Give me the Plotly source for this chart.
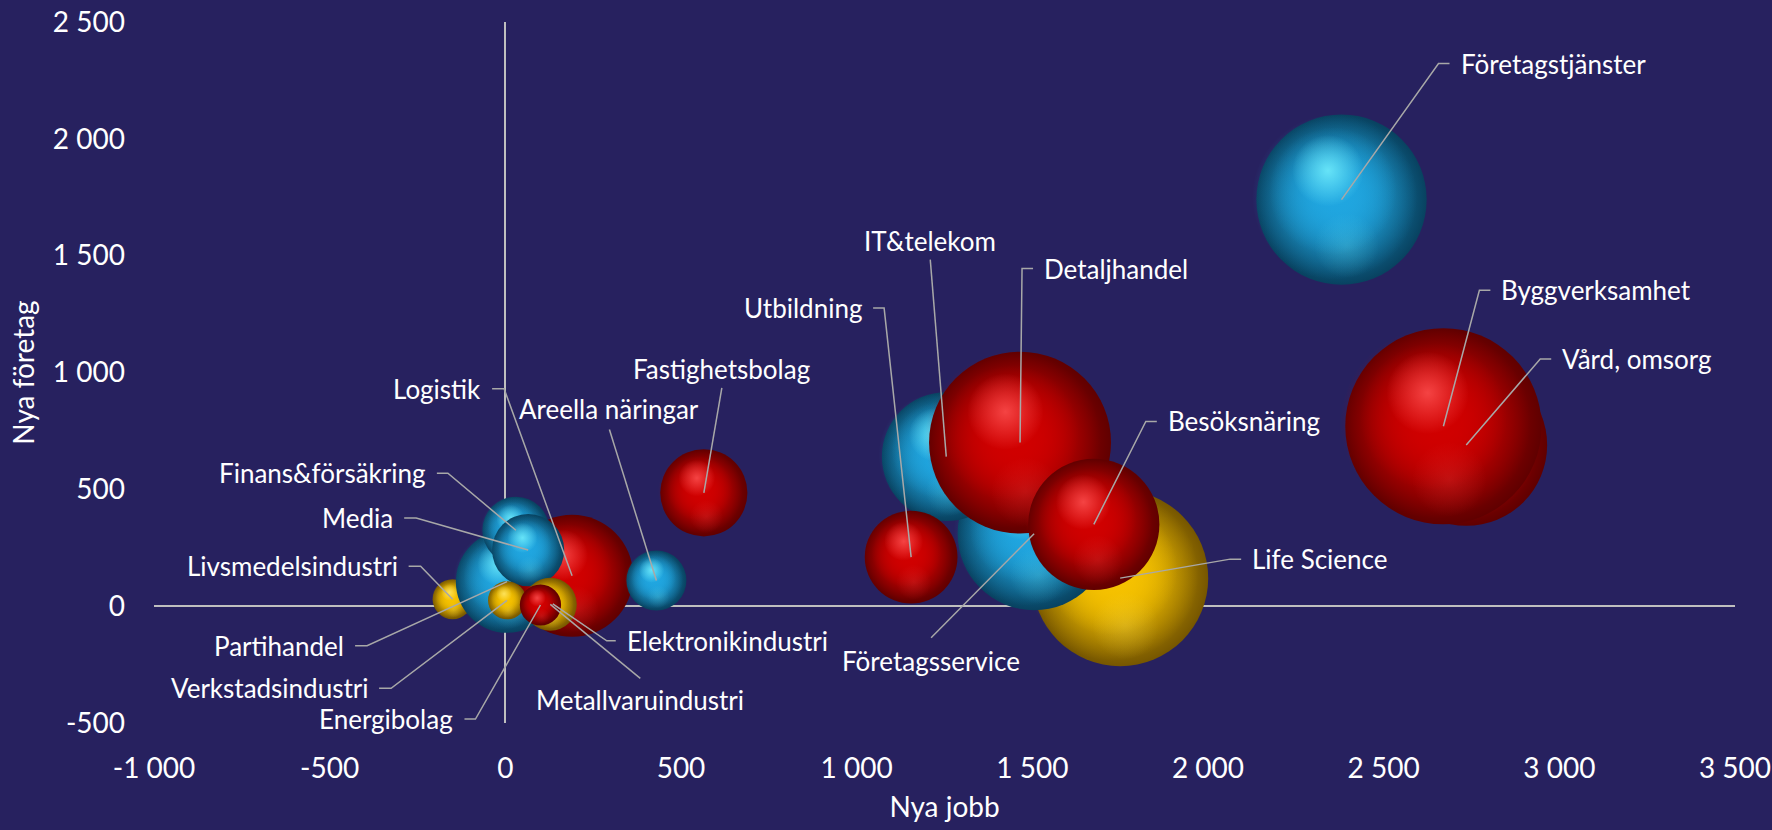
import math
import plotly.graph_objects as go

# --- data -------------------------------------------------------------------
branscher = [
    "Livsmedelsindustri", "Partihandel", "Logistik", "Finans&försäkring", "Media",
    "Verkstadsindustri", "Elektronikindustri", "Metallvaruindustri", "Energibolag",
    "Areella näringar", "Fastighetsbolag", "Life Science", "Företagsservice",
    "IT&telekom", "Detaljhandel", "Utbildning", "Besöksnäring",
    "Vård, omsorg", "Byggverksamhet", "Företagstjänster",
]
nya_jobb = [-150, 5, 190, 30, 65, 5, 135, 128, 100, 430, 565, 1750, 1505,
            1255, 1465, 1155, 1675, 2735, 2670, 2380]
nya_foretag = [30, 105, 130, 325, 240, 25, 10, 8, 5, 110, 485, 120, 310,
               640, 700, 210, 350, 690, 770, 1740]
storlek = [160, 1050, 1490, 450, 520, 145, 90, 280, 170, 360, 760, 3100, 2340,
           1660, 3310, 860, 1720, 2620, 3850, 2900]
grupp = ["gul", "blå", "röd", "blå", "blå", "gul", "gul", "gul", "röd", "blå",
         "röd", "gul", "blå", "blå", "röd", "röd", "röd", "röd", "röd", "blå"]

x_ticks = [-1000, -500, 0, 500, 1000, 1500, 2000, 2500, 3000, 3500]
x_ticktext = ["-1 000", "-500", "0", "500", "1 000", "1 500", "2 000", "2 500", "3 000", "3 500"]
y_ticks = [-500, 0, 500, 1000, 1500, 2000, 2500]
y_ticktext = ["-500", "0", "500", "1 000", "1 500", "2 000", "2 500"]

# --- layout constants -------------------------------------------------------
W, H = 1772, 830
MARGIN = dict(l=154, r=37, t=22, b=107)
X_RANGE = [-1000, 3500]
Y_RANGE = [-500, 2500]
SIZEREF = 0.1  # bubble value -> area in px²/10

PX_X = (W - MARGIN["l"] - MARGIN["r"]) / (X_RANGE[1] - X_RANGE[0])
PX_Y = (H - MARGIN["t"] - MARGIN["b"]) / (Y_RANGE[1] - Y_RANGE[0])

BG = "#27215F"
FONT = "Source Sans Pro, Lato, sans-serif"
LEADER = "#A8A8A8"

PALETT = {
    "blå": dict(base=(32, 166, 224), light=(120, 244, 255), dark=(8, 66, 96)),
    "röd": dict(base=(208, 0, 0), light=(255, 84, 84), dark=(96, 0, 0)),
    "gul": dict(base=(246, 194, 0), light=(255, 234, 110), dark=(118, 86, 0)),
}


def rgba(c, a=1.0):
    return f"rgba({c[0]},{c[1]},{c[2]},{a})"


def sphere(x, y, d, pal):
    """Shaded ball built from stacked radial-gradient markers."""
    def dot(dx, dy, size, edge, center):
        return go.Scatter(
            x=[x + dx * d / PX_X], y=[y - dy * d / PX_Y], mode="markers",
            marker=dict(size=size * d, color=edge, line=dict(width=0),
                        gradient=dict(type="radial", color=center)),
            hoverinfo="skip", showlegend=False, cliponaxis=False,
        )
    base, light, dark = pal["base"], pal["light"], pal["dark"]
    return [
        dot(0, 0, 1.0, rgba(dark), rgba(base)),
        dot(-0.04, -0.015, 0.97, rgba(base, 0), rgba(base, 1)),
        dot(-0.05, -0.05, 0.75, rgba(base, 0), rgba(base, 1)),
        dot(0.03, 0.27, 0.38, rgba(light, 0), rgba(light, 0.2)),
        dot(-0.08, -0.17, 0.42, rgba(light, 0), rgba(light, 0.8)),
    ]


fig = go.Figure()
for xv, yv, s, g in zip(nya_jobb, nya_foretag, storlek, grupp):
    d = math.sqrt(s / SIZEREF)
    for tr in sphere(xv, yv, d, PALETT[g]):
        fig.add_trace(tr)

# --- data labels with leader lines (pixel offsets from each point) ----------
# elbow: line to (dx, dy) then a short horizontal stub, text after the stub
# straight: line to (dx, dy), text centred a little further out
etiketter = {
    "Företagstjänster": ("elbow", 97, -136, 11),
    "Byggverksamhet": ("elbow", 36, -136, 11),
    "Vård, omsorg": ("elbow", 74, -86, 11),
    "Detaljhandel": ("elbow", 2, -174, 11),
    "Besöksnäring": ("elbow", 52, -103, 11),
    "Life Science": ("elbow", 110, -19, 11),
    "Utbildning": ("elbow", -27, -249, -11),
    "Logistik": ("elbow", -68, -187, -12),
    "Finans&försäkring": ("elbow", -68, -57, -11),
    "Media": ("elbow", -112, -32, -12),
    "Livsmedelsindustri": ("elbow", -32, -33, -12),
    "Partihandel": ("elbow", -140, 64, -12),
    "Verkstadsindustri": ("elbow", -116, 88, -12),
    "Energibolag": ("elbow", -65, 114, -11),
    "Elektronikindustri": ("elbow", 54, 37, 9),
    "IT&telekom": ("straight", -16, -197, -19),
    "Företagsservice": ("straight", -103, 104, 23),
    "Metallvaruindustri": ("straight", 90, 74, 22),
    "Areella näringar": ("straight", -47, -151, -20),
    "Fastighetsbolag": ("straight", 18, -105, -19),
}

shapes = []
annotations = []
for namn, xv, yv in zip(branscher, nya_jobb, nya_foretag):
    kind, dx, dy, extra = etiketter[namn]
    if kind == "elbow":
        path = f"M 0 0 L {dx} {-dy} L {dx + extra} {-dy}"
        tx = dx + extra + (9 if extra > 0 else -9)
        ty = dy
        anchor = "left" if extra > 0 else "right"
    else:
        path = f"M 0 0 L {dx} {-dy}"
        tx, ty, anchor = dx, dy + extra, "center"
    shapes.append(dict(
        type="path", xref="x", yref="y", xsizemode="pixel", ysizemode="pixel",
        xanchor=xv, yanchor=yv, path=path,
        line=dict(color=LEADER, width=1.5), layer="above",
    ))
    annotations.append(dict(
        x=xv, y=yv, xref="x", yref="y", text=namn, showarrow=False,
        xshift=tx, yshift=-ty, xanchor=anchor, yanchor="middle",
        font=dict(family=FONT, size=26, color="white"),
    ))

axis_common = dict(
    showgrid=False, zeroline=True, zerolinecolor="#BFBFBF", zerolinewidth=2,
    showline=False, ticks="", automargin=False,
    tickfont=dict(family=FONT, size=28, color="white"),
    title_font=dict(family=FONT, size=28, color="white"),
)

fig.update_layout(
    width=W, height=H, margin=MARGIN,
    paper_bgcolor=BG, plot_bgcolor=BG,
    shapes=shapes, annotations=annotations,
    xaxis=dict(range=X_RANGE, tickvals=x_ticks, ticktext=x_ticktext,
               ticklabelstandoff=26, title=dict(text="Nya jobb", standoff=14),
               **axis_common),
    yaxis=dict(range=Y_RANGE, tickvals=y_ticks, ticktext=y_ticktext,
               ticklabelstandoff=28, title=dict(text="Nya företag", standoff=10),
               **axis_common),
    showlegend=False,
)

fig.write_html("out.html")
